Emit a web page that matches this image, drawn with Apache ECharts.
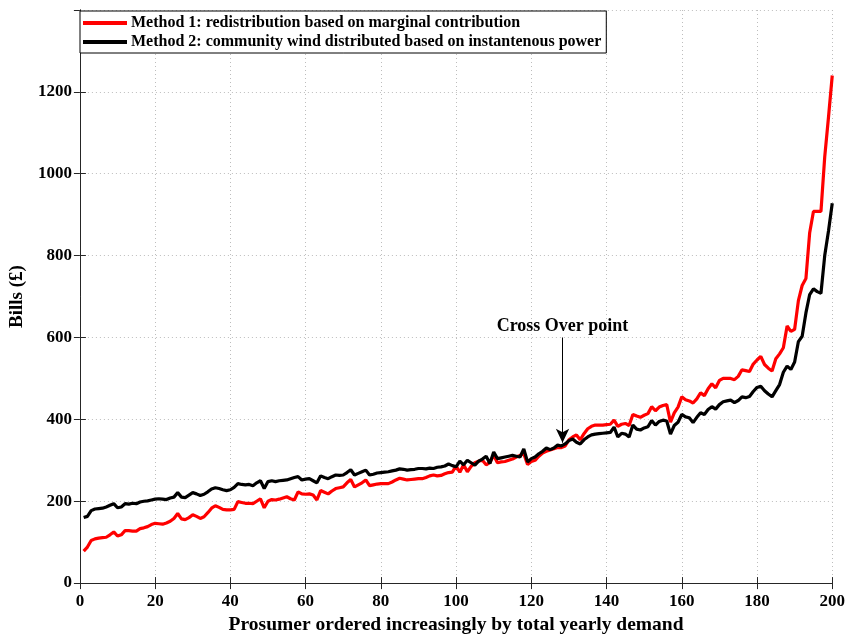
<!DOCTYPE html>
<html>
<head>
<meta charset="utf-8">
<script src="https://cdn.jsdelivr.net/npm/echarts@6/dist/echarts.min.js"></script>
<style>
  html, body { margin: 0; padding: 0; background: #fff; }
  #ch-main { width: 848px; height: 640px; }
</style>
</head>
<body>
<div id="ch-main"></div>
<script>
// values, prosumer 1..200
var method1 = [
  78, 88, 104, 108, 110, 111, 112, 118, 125, 115, 118, 128, 128, 127, 127, 133, 135, 138, 143, 146,
  145, 144, 147, 151, 158, 170, 157, 155, 160, 167, 163, 158, 162, 172, 183, 189, 185, 180, 179, 179,
  180, 199, 197, 195, 195, 194, 200, 206, 184, 200, 204, 203, 205, 208, 211, 206, 203, 223, 218, 217,
  218, 215, 203, 226, 222, 218, 225, 231, 233, 235, 245, 253, 235, 240, 245, 252, 238, 240, 242, 243,
  243, 243, 247, 252, 256, 254, 252, 253, 254, 255, 255, 258, 262, 264, 262, 263, 267, 270, 271, 286,
  271, 289, 272, 285, 294, 298, 300, 289, 295, 312, 294, 296, 297, 300, 303, 308, 312, 316, 290, 297,
  300, 310, 318, 322, 325, 328, 331, 331, 335, 350, 357, 362, 350, 365, 377, 383, 386, 386, 386, 387,
  388, 398, 383, 388, 390, 385, 412, 408, 405, 410, 414, 431, 421, 430, 434, 436, 393, 416, 430, 455,
  448, 445, 440, 450, 465, 458, 475, 487, 477, 495, 500, 500, 500, 497, 505, 521, 519, 517, 535, 545,
  554, 534, 525, 518, 548, 560, 575, 628, 615, 620, 690, 727, 744, 856, 908, 908, 908, 1041, 1138, 1240
];
var method2 = [
  160, 163, 177, 181, 182, 183, 186, 190, 194, 184, 186, 194, 193, 195, 194, 198, 200, 201, 203, 205,
  206, 205, 204, 208, 210, 221, 210, 209, 215, 221, 218, 214, 217, 223, 230, 233, 231, 228, 226, 228,
  234, 243, 241, 240, 241, 238, 245, 250, 231, 248, 250, 248, 250, 251, 252, 255, 258, 260, 252, 254,
  255, 250, 245, 262, 258, 255, 260, 264, 263, 264, 270, 277, 264, 268, 272, 276, 264, 266, 269, 270,
  271, 272, 274, 276, 279, 278, 276, 277, 278, 280, 280, 279, 281, 280, 283, 284, 286, 291, 287, 284,
  298, 289, 300, 294, 288, 298, 303, 310, 292, 320, 304, 306, 308, 310, 312, 310, 308, 328, 296, 304,
  308, 316, 322, 330, 326, 330, 337, 335, 340, 348, 352, 344, 340, 350, 357, 362, 364, 365, 366, 367,
  368, 381, 357, 366, 364, 357, 386, 376, 374, 379, 382, 397, 386, 395, 398, 396, 364, 385, 393, 412,
  406, 404, 392, 405, 416, 412, 424, 431, 425, 436, 443, 445, 447, 441, 446, 455, 453, 456, 468, 478,
  481, 470, 462, 455, 470, 485, 515, 530, 522, 540, 590, 603, 660, 705, 719, 712, 708, 800, 860, 928
];
var seriesNames = [
  'Method 1: redistribution based on marginal contribution',
  'Method 2: community wind distributed based on instantenous power'
];
var xTicks = [0, 20, 40, 60, 80, 100, 120, 140, 160, 180, 200];
var yTicks = [0, 200, 400, 600, 800, 1000, 1200];
var crossOver = { x: 128.3, from: 600, to: 343, text: 'Cross Over point' };

function pairs(arr) {
  return arr.map(function (v, i) { return [i + 1, v]; });
}

var font = '"Liberation Serif", "Times New Roman", serif';
var myChart = echarts.init(document.getElementById('ch-main'));

var tickLabel = { fontFamily: font, fontWeight: 'bold', fontSize: 17, color: '#000' };
var gridLine = { show: true, lineStyle: { color: '#bdbdbd', type: [1, 3], width: 1 } };

var option = {
  animation: false,
  backgroundColor: '#fff',
  grid: { left: 79, right: 10, top: 10, bottom: 53 },
  legend: {
    orient: 'vertical',
    left: 80, top: 11,
    padding: [4, 5, 3, 3],
    itemGap: 3,
    itemWidth: 44,
    itemHeight: 4,
    icon: 'rect',
    backgroundColor: '#fff',
    borderColor: '#000',
    borderWidth: 1,
    data: seriesNames,
    textStyle: { fontFamily: font, fontWeight: 'bold', fontSize: 16, color: '#000', lineHeight: 16, padding: [0, 0, 0, -1] }
  },
  xAxis: [{
    type: 'value', min: 0, max: 200, interval: 20,
    name: 'Prosumer ordered increasingly by total yearly demand',
    nameLocation: 'middle', nameGap: 30,
    nameTextStyle: { fontFamily: font, fontWeight: 'bold', fontSize: 19.5, color: '#000' },
    axisLine: { onZero: false, lineStyle: { color: '#262626', width: 1 } },
    axisTick: { inside: true, length: 6, lineStyle: { color: '#262626' } },
    axisLabel: Object.assign({ margin: 10, formatter: function (v) { return xTicks.indexOf(v) >= 0 ? v : ''; } }, tickLabel),
    splitLine: gridLine
  }, {
    type: 'value', min: 0, max: 200, interval: 20, position: 'top',
    axisLine: { lineStyle: { color: '#262626' } },
    axisTick: { inside: true, length: 6, lineStyle: { color: '#262626' } },
    axisLabel: { show: false }, splitLine: { show: false }
  }],
  yAxis: [{
    type: 'value', min: 0, max: 1400, interval: 200,
    name: 'Bills (£)',
    nameLocation: 'middle', nameGap: 40,
    nameTextStyle: { fontFamily: font, fontWeight: 'bold', fontSize: 19, color: '#000' },
    axisLine: { show: true, lineStyle: { color: '#262626', width: 1 } },
    axisTick: { show: true, inside: true, length: 6, lineStyle: { color: '#262626' } },
    axisLabel: Object.assign({ margin: 8, showMaxLabel: false,
      formatter: function (v) { return yTicks.indexOf(v) >= 0 ? v : ''; } }, tickLabel),
    splitLine: gridLine
  }, {
    type: 'value', min: 0, max: 1400, interval: 200, position: 'right',
    axisLine: { show: true, lineStyle: { color: '#262626' } },
    axisTick: { show: true, inside: true, length: 6, lineStyle: { color: '#262626' } },
    axisLabel: { show: false }, splitLine: { show: false }
  }],
  series: [{
    name: seriesNames[0],
    type: 'line',
    data: pairs(method1),
    symbol: 'none',
    lineStyle: { color: '#ff0000', width: 3.2 },
    itemStyle: { color: '#ff0000' },
    z: 2
  }, {
    name: seriesNames[1],
    type: 'line',
    data: pairs(method2),
    symbol: 'none',
    lineStyle: { color: '#000', width: 3.2 },
    itemStyle: { color: '#000' },
    z: 3,
    markLine: {
      silent: true,
      symbol: ['none', 'arrow'],
      symbolSize: [10, 14],
      lineStyle: { color: '#000', width: 1, type: 'solid' },
      label: {
        show: true, position: 'start', distance: 2,
        formatter: crossOver.text,
        fontFamily: font, fontWeight: 'bold', fontSize: 18, color: '#000'
      },
      data: [[{ coord: [crossOver.x, crossOver.from] }, { coord: [crossOver.x, crossOver.to] }]]
    }
  }]
};

myChart.setOption(option);
</script>
</body>
</html>
